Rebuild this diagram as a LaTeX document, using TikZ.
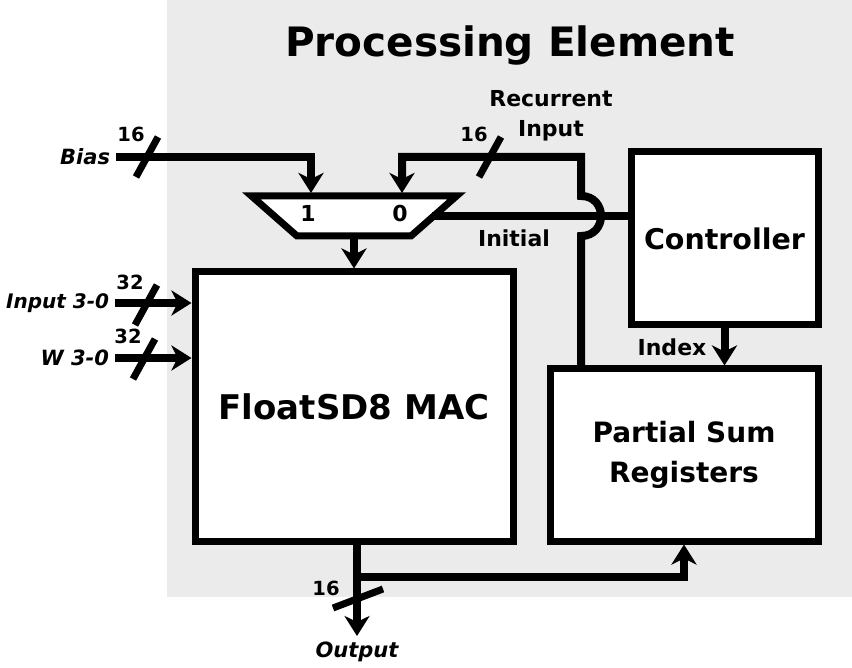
\documentclass[tikz,border=0pt]{standalone}
\usepackage{fontspec}
\setmainfont{DejaVu Sans}
\usetikzlibrary{arrows.meta, positioning, shapes.geometric, calc}
\definecolor{pegrey}{HTML}{EBEBEB}
\newcommand{\pesize}[1]{\fontsize{#1pt}{#1pt}\selectfont}
\tikzset{
  every picture/.style={font=\bfseries, line width=8pt},
  block/.style={draw, fill=white, line width=7pt, align=center, inner sep=0pt},
  wire/.style={line width=8pt},
  arrow/.style={wire, -{Stealth[length=20pt, width=25pt, inset=6pt]}},
  busmark/.style={line width=7pt},
  sig/.style={font=\bfseries\itshape\pesize{21}, inner sep=2pt},
  busw/.style={font=\bfseries\pesize{19.5}, inner sep=0pt},
  note/.style={font=\bfseries\pesize{22}, inner sep=0pt},
}

\begin{document}
\begin{tikzpicture}[x=1pt, y=-1pt,
  muxbox/.style={minimum width=205pt, minimum height=40pt, inner sep=0pt, outer sep=3pt},
  muxline/.style={draw, fill=white, line width=7pt, line join=miter}]
  \useasboundingbox (0,0) rectangle (852,668);
  \fill[pegrey] (167,0) rectangle (852,597);
  \node[font=\bfseries\pesize{40.5}] (title) at (510,45) {Processing Element};
  % blocks
  \node[block, minimum width=318pt, minimum height=269pt, font=\bfseries\pesize{34}] (mac) at (354,406.5) {FloatSD8 MAC};
  \node[block, minimum width=187pt, minimum height=173pt, font=\bfseries\pesize{28.5}] (ctrl) at (724.5,238.5) {Controller};
  \node[block, minimum width=268pt, minimum height=172pt, font=\bfseries\fontsize{28pt}{40pt}\selectfont] (psum) at (684,455) {Partial Sum\\Registers};
  % mux
  \node[muxbox] (mux) at (354,216) {};
  \draw[muxline] (354,216) +(-102.5,-20) -- +(102.5,-20) -- +(57,20) -- +(-57,20) -- cycle;
  \node[note] (m1) at (308,213) {1};
  \node[note] (m0) at (400,213) {0};
  % signals
  \node[sig, anchor=east] (bias) at (116,157) {Bias};
  \node[sig, anchor=east, font=\bfseries\itshape\pesize{20}] (inp) at (115,303) {Input 3-0};
  \node[sig, anchor=east] (wgt) at (115,358) {W 3-0};
  \node[sig] (out) at (357,652) {Output};
  \coordinate (in1) at ($(mux.north)+(-43,0)$);
  \coordinate (in0) at ($(mux.north)+(48,0)$);
  \coordinate (sel) at ($(mux.center)+(78,0)$);
  \coordinate (hop) at (581,216);
  \coordinate (tap) at (357,577);
  % wires
  \draw[arrow] (bias.east) -| (in1);
  \draw[arrow] (psum.north -| hop) -- ($(hop)+(0,20)$) .. controls +(26.7,0) and +(26.7,0) .. ($(hop)+(0,-20)$)
    -- (hop |- bias.east) -| (in0);
  \draw[wire] (ctrl.west |- hop) -- (sel);
  \draw[arrow] (mux.south) -- (mac.north);
  \draw[arrow] (inp.east) -- (inp.east -| mac.west);
  \draw[arrow] (wgt.east) -- (wgt.east -| mac.west);
  \draw[arrow] (ctrl.south) -- (ctrl.south |- psum.north);
  \draw[arrow] (mac.south -| tap) -- (out.north);
  \draw[arrow] (tap) -| (psum.south);
  % labels
  \node[note, align=center, font=\bfseries\fontsize{22pt}{30pt}\selectfont] (rec) at (551,116) {Recurrent\\Input};
  \node[note] (init) at (514,238) {Initial};
  \node[note] (idx) at (672,347) {Index};
  % bus widths
  \foreach \x/\y/\n [count=\i] in {147/157/16, 490/157/16, 146/305/32, 144/359/32} {
    \draw[busmark] (\x,\y) +(-11,20) -- +(11,-20);
    \node[busw] (bw\i) at (\x-16,\y-23) {\n};
  }
  \draw[busmark] (358,598.5) +(-25,9.5) -- +(25,-9.5);
  \node[busw] (bw5) at (326,588) {16};
\end{tikzpicture}
\end{document}
